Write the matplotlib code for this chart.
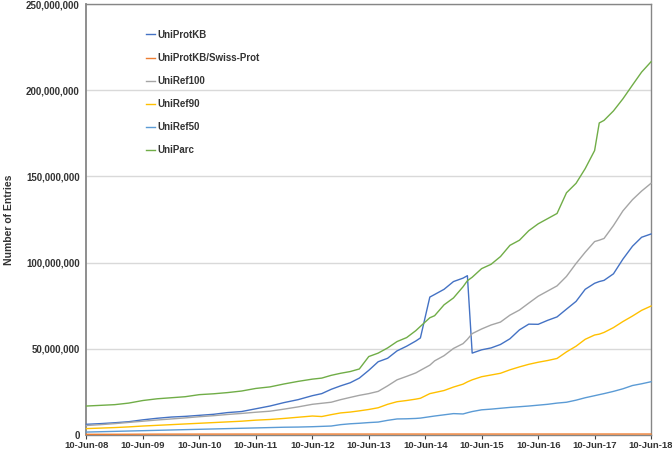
import matplotlib
matplotlib.use("Agg")
import pandas as pd
import matplotlib.pyplot as plt
import matplotlib.dates as mdates
from matplotlib.ticker import FuncFormatter, MultipleLocator

# Release dates (irregular sampling, denser around the sharp changes)
release_dates = [
    "2008-06-10", "2008-09-10", "2008-12-10", "2009-03-10", "2009-06-10",
    "2009-09-10", "2009-12-10", "2010-03-10", "2010-06-10",
    "2010-09-10", "2010-12-10", "2011-03-10", "2011-06-10",
    "2011-09-10", "2011-12-10", "2012-03-10", "2012-06-10",
    "2012-08-10", "2012-10-10", "2012-12-10", "2013-02-10", "2013-04-10",
    "2013-06-10", "2013-08-10", "2013-10-10", "2013-12-10", "2014-02-10", "2014-04-10", "2014-05-10", "2014-07-10",
    "2014-08-10", "2014-10-10", "2014-12-10", "2015-02-10", "2015-03-10", "2015-04-10",
    "2015-06-10", "2015-08-10", "2015-10-10", "2015-12-10", "2016-02-10", "2016-04-10", "2016-06-10", "2016-08-10", "2016-10-10",
    "2016-12-10", "2017-02-10", "2017-04-10", "2017-06-10", "2017-07-10", "2017-08-10", "2017-10-10", "2017-12-10", "2018-02-10", "2018-04-10", "2018-06-10",
]

# Number of entries, in millions
uniprotkb = [
    6.2, 6.6, 7.1, 7.7, 8.8,
    9.7, 10.4, 10.8, 11.4,
    12.0, 13.0, 13.6, 15.2,
    16.8, 18.8, 20.5, 22.8,
    24.0, 26.5, 28.5, 30.3, 33.0,
    37.5, 42.5, 44.5, 48.8, 51.5, 54.5, 56.3, 80.0,
    81.5, 84.5, 89.0, 91.0, 92.4, 47.5,
    49.4, 50.5, 52.5, 55.8, 61.0, 64.3, 64.2, 66.5, 68.5,
    73.0, 77.5, 84.5, 88.0, 89.0, 89.7, 93.5, 102.0, 109.5, 114.7, 116.6,
]
swissprot = [
    0.39, 0.40, 0.41, 0.43, 0.47,
    0.49, 0.50, 0.51, 0.518,
    0.52, 0.523, 0.526, 0.53,
    0.532, 0.533, 0.535, 0.536,
    0.537, 0.538, 0.538, 0.539, 0.540,
    0.540, 0.541, 0.541, 0.542, 0.543, 0.544, 0.545, 0.545,
    0.546, 0.546, 0.547, 0.547, 0.548, 0.548,
    0.548, 0.549, 0.549, 0.550, 0.550, 0.551, 0.551, 0.552, 0.553,
    0.553, 0.554, 0.554, 0.554, 0.555, 0.555, 0.555, 0.556, 0.556, 0.557, 0.557,
]
uniref100 = [
    5.5, 6.0, 6.6, 7.3, 8.0,
    8.7, 9.3, 9.9, 10.6,
    11.2, 11.9, 12.5, 13.2,
    13.8, 15.0, 16.3, 17.8,
    18.4, 19.0, 20.5, 21.8, 23.0,
    24.0, 25.3, 28.5, 32.0, 34.0, 36.0, 37.5, 40.5,
    43.0, 46.0, 50.2, 53.0, 55.5, 58.8,
    61.5, 63.8, 65.5, 69.5, 72.5, 76.5, 80.5, 83.5, 86.5,
    92.0, 99.5, 106.0, 112.2, 113.0, 114.0, 121.5, 130.0, 136.5, 141.5, 146.0,
]
uniref90 = [
    3.7, 4.0, 4.3, 4.7, 5.2,
    5.6, 6.0, 6.4, 6.8,
    7.2, 7.6, 8.0, 8.6,
    9.0, 9.6, 10.3, 11.0,
    10.7, 11.8, 12.8, 13.3, 14.0,
    14.8, 15.8, 17.8, 19.3, 20.0, 20.8, 21.3, 24.0,
    24.6, 25.8, 27.8, 29.5, 30.8, 32.0,
    33.8, 34.8, 35.8, 37.8, 39.5, 41.0, 42.2, 43.2, 44.4,
    48.2, 51.5, 55.5, 58.0, 58.5, 59.5, 62.3, 65.8, 69.0, 72.3, 74.8,
]
uniref50 = [
    1.7, 1.9, 2.1, 2.3, 2.5,
    2.7, 2.9, 3.1, 3.3,
    3.5, 3.7, 3.9, 4.1,
    4.3, 4.5, 4.6, 4.8,
    5.0, 5.2, 6.0, 6.5, 6.8,
    7.2, 7.5, 8.5, 9.3, 9.4, 9.6, 9.8, 10.6,
    11.0, 11.7, 12.4, 12.2, 12.9, 13.6,
    14.6, 15.0, 15.5, 16.0, 16.4, 16.8, 17.3, 17.8, 18.5,
    19.0, 20.2, 21.6, 22.8, 23.4, 24.0, 25.3, 26.8, 28.7, 29.7, 30.9,
]
uniparc = [
    16.8, 17.2, 17.6, 18.5, 20.0,
    21.0, 21.6, 22.2, 23.4,
    23.9, 24.6, 25.5, 27.0,
    27.9, 29.6, 31.1, 32.4,
    33.0, 34.6, 35.8, 36.8, 38.3,
    45.5, 47.5, 50.5, 54.2, 56.5, 60.5, 63.0, 68.0,
    69.2, 75.5, 79.5, 86.0, 89.5, 91.5,
    96.5, 99.0, 103.5, 110.0, 113.0, 118.5, 122.5, 125.5, 128.5,
    140.5, 146.0, 154.5, 165.0, 181.0, 182.5, 188.0, 195.0, 203.0, 210.5, 216.5,
]

series_names = ["UniProtKB", "UniProtKB/Swiss-Prot", "UniRef100", "UniRef90", "UniRef50", "UniParc"]
series_values = [uniprotkb, swissprot, uniref100, uniref90, uniref50, uniparc]
series_colors = ["#4472C4", "#ED7D31", "#A5A5A5", "#FFC000", "#5B9BD5", "#70AD47"]

plt.rcParams["font.family"] = ["Liberation Sans", "DejaVu Sans"]

dates = pd.to_datetime(release_dates)

fig = plt.figure(figsize=(6.72, 4.51), dpi=100)
ax = fig.add_axes([0.1287, 0.0355, 0.8401, 0.9556])

for name, vals, col in zip(series_names, series_values, series_colors):
    ax.plot(dates, [v * 1e6 for v in vals], color=col, lw=1.0, label=name,
            clip_on=False, zorder=3)

# Axes ranges and ticks
ax.set_xlim(pd.Timestamp("2008-06-10"), pd.Timestamp("2018-06-10"))
ax.set_ylim(0, 250e6)
ax.yaxis.set_major_locator(MultipleLocator(50e6))
ax.yaxis.set_major_formatter(FuncFormatter(lambda v, p: f"{v:,.0f}"))
ax.xaxis.set_major_locator(mdates.YearLocator(base=1, month=6, day=10))
ax.xaxis.set_major_formatter(mdates.DateFormatter("%d-%b-%y"))

ax.grid(axis="y", color="#D9D9D9", lw=1.0, zorder=0)
ax.set_axisbelow(True)

for lbl in ax.get_xticklabels() + ax.get_yticklabels():
    lbl.set_fontweight("bold")
ax.tick_params(axis="y", length=0, pad=5, labelsize=7, labelcolor="#333333")
ax.tick_params(axis="x", length=3, width=0.8, pad=1, labelsize=6.8, labelcolor="#333333", color="#404040")

for side in ["left", "right", "top", "bottom"]:
    ax.spines[side].set_color("#868686")
ax.spines["left"].set_linewidth(1.3)
ax.spines["bottom"].set_linewidth(1.0)
ax.spines["top"].set_linewidth(1.0)
ax.spines["right"].set_linewidth(1.0)

ax.set_ylabel("Number of Entries", fontsize=7.5, fontweight="bold", color="#333333")
ax.yaxis.set_label_coords(-0.128, 0.5)

ax.legend(loc="upper left", bbox_to_anchor=(0.105, 0.940), frameon=False,
          prop={"weight": "bold", "size": 7}, handlelength=0.95,
          handletextpad=0.2, labelspacing=1.35, borderpad=0, borderaxespad=0,
          labelcolor="#333333")

plt.savefig("out.png", dpi=100)
plt.close()
